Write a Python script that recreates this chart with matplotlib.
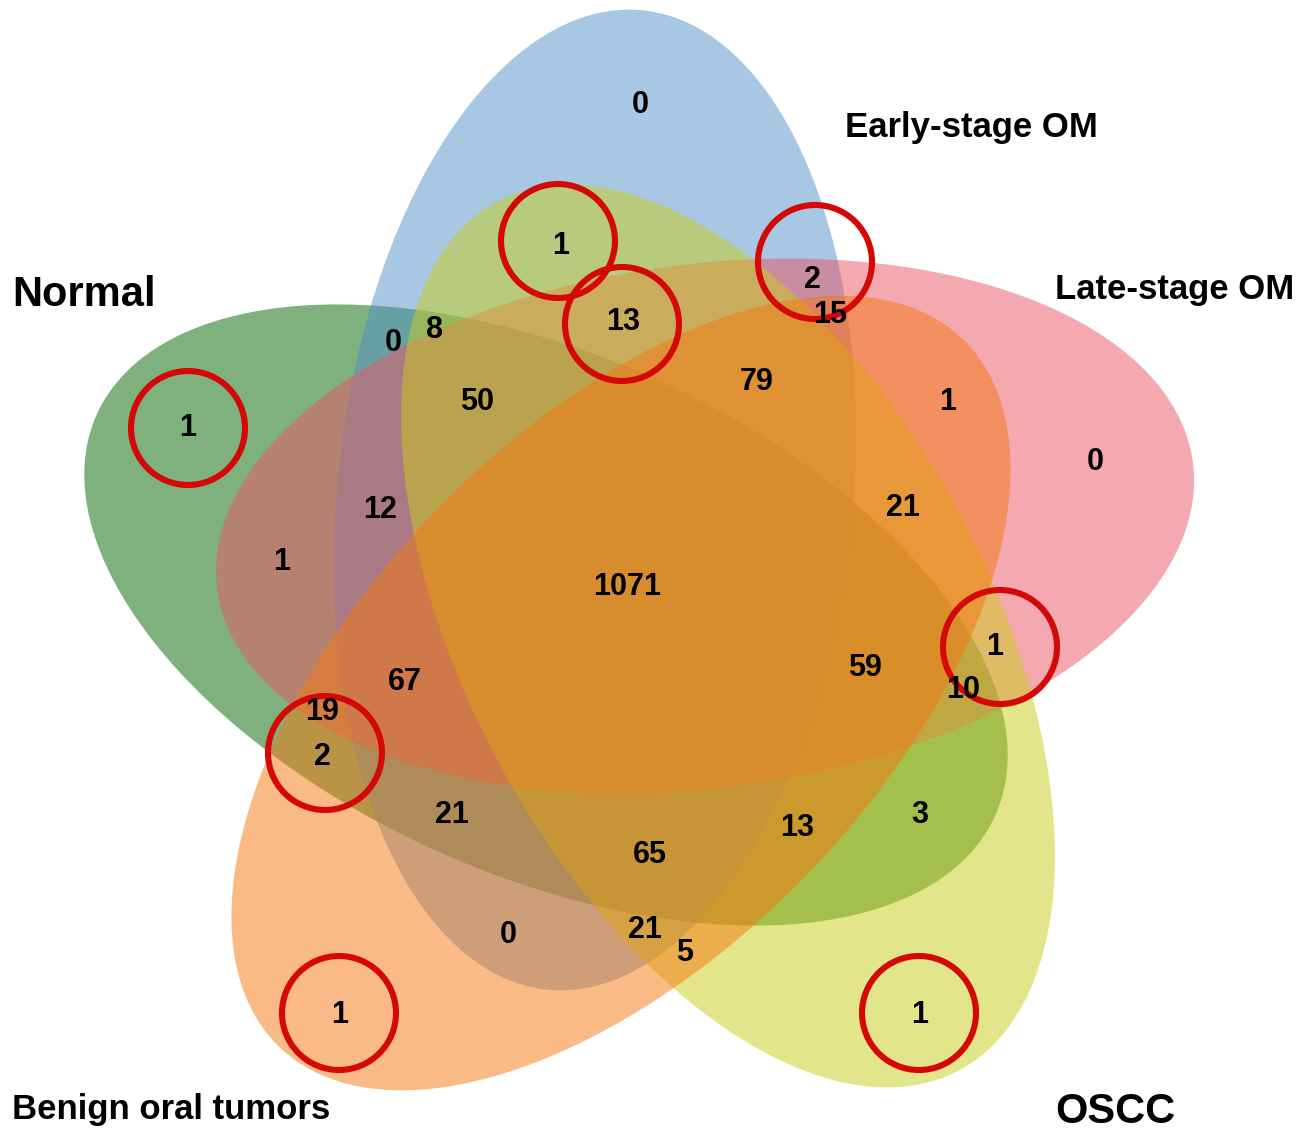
import matplotlib
matplotlib.use("Agg")
import matplotlib.pyplot as plt
from matplotlib.patches import Ellipse, Circle

W, H = 1314, 1135

# ---- data -------------------------------------------------------------
# Sets: G = Normal, B = Early-stage OM, P = Late-stage OM,
#       O = Benign oral tumors, Y = OSCC
set_keys = ["G", "B", "P", "Y", "O"]
set_names = ["Normal", "Early-stage OM", "Late-stage OM", "OSCC", "Benign oral tumors"]

# each region is named by the sets it belongs to
regions = ["B", "BY", "BYP", "BP", "BPO", "BGY", "BG", "BGYP", "BPYO", "PO",
           "P", "PYO", "G", "BGP", "GP", "BGPOY", "GPYO", "PY", "GPY", "BGPO",
           "GPO", "GO", "BGO", "BGOY", "GOY", "GY", "BO", "BOY", "OY", "O", "Y"]
counts = [0, 1, 13, 2, 15, 8, 0, 50, 79, 1,
          0, 21, 1, 12, 1, 1071, 59, 1, 10, 67,
          19, 2, 21, 65, 13, 3, 0, 21, 5, 1, 1]

# regions marked with a red ring
highlighted = ["G", "BY", "BYP", "BP", "PY", "GO", "O", "Y"]

# ---- layout (pixel coordinates, y pointing down) -----------------------
label_pos = {
    "B": (640, 105), "BY": (561, 246), "BYP": (623, 322), "BP": (812, 280),
    "BPO": (830, 315), "BGY": (435, 330), "BG": (393, 343), "BGYP": (477, 402),
    "BPYO": (757, 382), "PO": (948, 402), "P": (1095, 462), "PYO": (903, 508),
    "G": (188, 428), "BGP": (380, 510), "GP": (282, 562), "BGPOY": (627, 587),
    "GPYO": (865, 668), "PY": (995, 647), "GPY": (963, 690), "BGPO": (405, 682),
    "GPO": (322, 712), "GO": (322, 757), "BGO": (452, 815), "BGOY": (650, 855),
    "GOY": (797, 828), "GY": (920, 815), "BO": (508, 935), "BOY": (645, 930),
    "OY": (685, 953), "O": (340, 1015), "Y": (920, 1015),
}
ring_pos = {
    "G": (188, 428), "BY": (558, 241), "BYP": (622, 324), "BP": (815, 262),
    "PY": (1000, 647), "GO": (325, 753), "O": (339, 1013), "Y": (919, 1013),
}

# ellipse centre, semi-axes and direction of the long axis (deg, counter-clockwise)
shapes = {
    "G": dict(center=(546, 615), a=492, b=260, angle=156.0, color="#006501"),
    "B": dict(center=(595, 500), a=492, b=258, angle=84.5, color="#5191C9"),
    "P": dict(center=(705, 526), a=492, b=262, angle=7.4, color="#EB5565"),
    "Y": dict(center=(728, 636), a=492, b=262, angle=118.0, color="#C9CD19"),
    "O": dict(center=(621, 693), a=492, b=260, angle=46.0, color="#F5770F"),
}
name_pos = {
    "Normal": (12, 295, 30), "Early-stage OM": (845, 128, 25),
    "Late-stage OM": (1055, 290, 25), "OSCC": (1055, 1112, 30),
    "Benign oral tumors": (12, 1110, 25),
}

# ---- drawing ----------------------------------------------------------
plt.rcParams["font.family"] = ["Liberation Sans", "DejaVu Sans"]
fig = plt.figure(figsize=(W / 100, H / 100), dpi=100)
ax = fig.add_axes([0, 0, 1, 1])
ax.set_xlim(0, W)
ax.set_ylim(H, 0)
ax.set_aspect("equal")
ax.axis("off")

for z, key in enumerate(set_keys):
    s = shapes[key]
    ax.add_patch(Ellipse(s["center"], 2 * s["a"], 2 * s["b"], angle=-s["angle"],
                         facecolor=s["color"], edgecolor="none", alpha=0.5,
                         zorder=1 + z))

for name in set_names:
    x, y, fs = name_pos[name]
    ax.text(x, y, name, fontsize=fs, fontweight="bold", ha="left",
            va="center", color="black", zorder=20)

for reg, n in zip(regions, counts):
    x, y = label_pos[reg]
    ax.text(x, y, str(n), fontsize=22, fontweight="bold",
            ha="center", va="center", color="black", zorder=20)

for reg in highlighted:
    ax.add_patch(Circle(ring_pos[reg], 57, facecolor="none",
                        edgecolor="#D50808", linewidth=4.4, zorder=15))

fig.savefig("out.png", dpi=100)
